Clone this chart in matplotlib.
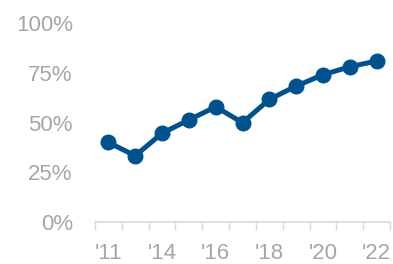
import numpy as np
from matplotlib import pyplot as plt
from matplotlib.ticker import FuncFormatter

years = ["'11", "'13", "'14", "'15", "'16", "'17", "'18", "'19", "'20", "'21", "'22"]
shares = [0.40, 0.333, 0.446, 0.513, 0.579, 0.499, 0.616, 0.683, 0.740, 0.780, 0.809]
y_ticks = [0, 0.25, 0.5, 0.75, 1.0]

BLUE = '#00528F'
GRAY = '#A6A6A6'

plt.rcParams['font.family'] = ['Liberation Sans', 'DejaVu Sans']

fig = plt.figure(figsize=(3.93, 2.64), dpi=100)
ax = fig.add_axes([0.2417, 0.159, 0.7507, 0.7539])

x = np.arange(len(years))
ax.plot(x, shares, color=BLUE, linewidth=3.6, marker='o', markersize=10.5,
        solid_capstyle='round', solid_joinstyle='round', clip_on=False)

ax.set_xlim(-0.5, len(years) - 0.5)
ax.set_ylim(0, 1)

# labels on every other category, tick marks between categories
ax.set_xticks(x[::2])
ax.set_xticklabels(years[::2])
ax.set_xticks(np.arange(-0.5, len(years)), minor=True)
ax.tick_params(axis='x', which='major', length=0, pad=15, labelsize=16, labelcolor=GRAY)
ax.tick_params(axis='x', which='minor', length=5.5, width=1, color='#D9D9D9', direction='out')

ax.set_yticks(y_ticks)
ax.yaxis.set_major_formatter(FuncFormatter(lambda v, p: f'{v:.0%}'))
ax.tick_params(axis='y', length=0, pad=16, labelsize=16, labelcolor=GRAY)

for side in ['top', 'right', 'left']:
    ax.spines[side].set_visible(False)
ax.spines['bottom'].set_color('#D9D9D9')
ax.spines['bottom'].set_linewidth(1.2)

fig.savefig('out.png', dpi=100)
